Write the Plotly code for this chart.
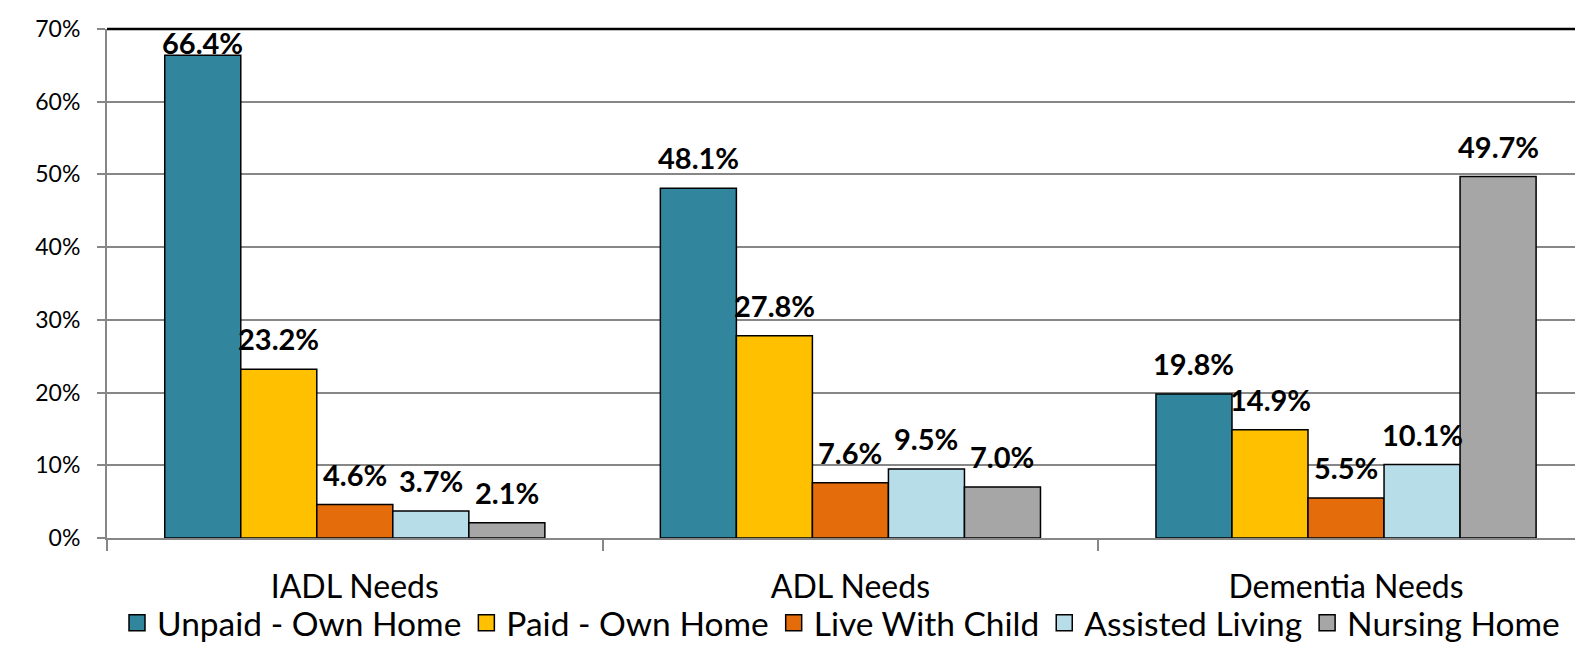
import plotly.graph_objects as go

# Share of care setting by type of need
needs = ["IADL Needs", "ADL Needs", "Dementia Needs"]
settings = ["Unpaid - Own Home", "Paid - Own Home", "Live With Child",
            "Assisted Living", "Nursing Home"]
unpaid_own_home = [0.664, 0.481, 0.198]
paid_own_home = [0.232, 0.278, 0.149]
live_with_child = [0.046, 0.076, 0.055]
assisted_living = [0.037, 0.095, 0.101]
nursing_home = [0.021, 0.070, 0.497]

series = [unpaid_own_home, paid_own_home, live_with_child,
          assisted_living, nursing_home]
colors = ["#31859C", "#FFC000", "#E46C0A", "#B7DEE8", "#A6A6A6"]

FONT = "Lato"
# page body has an 8px margin, the figure starts at (8, 8)
W, H = 1567, 637
M = dict(l=99, r=0, t=21, b=107)
BARGAP = 0.233
Y_MAX = 0.7
GRID = "#878787"

fig = go.Figure()

for name, vals, col in zip(settings, series, colors):
    fig.add_trace(go.Bar(
        name=name,
        x=needs,
        y=vals,
        marker=dict(color=col, line=dict(color="black", width=1.5)),
        showlegend=False,
        hovertemplate="<b>%{x}</b><br>" + name + ": %{y:.1%}<extra></extra>",
    ))

# legend entries with bigger square swatches
for name, col in zip(settings, colors):
    fig.add_trace(go.Scatter(
        x=[None], y=[None], mode="markers", name=name,
        marker=dict(symbol="square", size=16, color=col,
                    line=dict(color="black", width=1.5)),
    ))

# value labels above the bars, pushed down to stay inside the plot (like Excel)
plot_h = H - M["t"] - M["b"]
w = (1 - BARGAP) / len(series)
for si, vals in enumerate(series):
    for gi, v in enumerate(vals):
        room = (Y_MAX - v) / Y_MAX * plot_h
        fig.add_annotation(
            x=gi + (si - (len(series) - 1) / 2) * w,
            y=v,
            text=f"<b>{v * 100:.1f}%</b>",
            showarrow=False,
            yanchor="bottom",
            yshift=11 - max(0, 44 - room),
            font=dict(family=FONT, size=29, color="black"),
        )

fig.add_shape(type="line", xref="paper", yref="paper", x0=0, x1=1, y0=1, y1=1,
              line=dict(color="black", width=2.3))

fig.update_layout(
    width=W, height=H,
    margin=M,
    paper_bgcolor="white",
    plot_bgcolor="white",
    barmode="group",
    bargap=BARGAP,
    bargroupgap=0,
    font=dict(family=FONT, size=23, color="black"),
    legend=dict(orientation="h", xref="paper", x=0.5, xanchor="center",
                yref="container", y=0.0345, yanchor="middle",
                font=dict(size=33.5), itemwidth=30, bgcolor="rgba(0,0,0,0)"),
    xaxis=dict(
        range=[-0.5, 2.462], tickson="boundaries", ticks="outside", ticklen=11,
        tickwidth=2, tickcolor=GRID, showline=True, linecolor=GRID, linewidth=2,
        tickfont=dict(size=32), ticklabelstandoff=20, showgrid=False,
        automargin=False,
    ),
    yaxis=dict(
        range=[0, Y_MAX], dtick=0.1, tickformat=".0%", ticks="outside",
        ticklen=8, tickwidth=2, tickcolor=GRID, showline=True,
        linecolor=GRID, linewidth=2, gridcolor=GRID, gridwidth=2,
        zeroline=False, tickfont=dict(size=23), ticklabelstandoff=12,
        automargin=False,
    ),
)

fig.write_html("out.html")
